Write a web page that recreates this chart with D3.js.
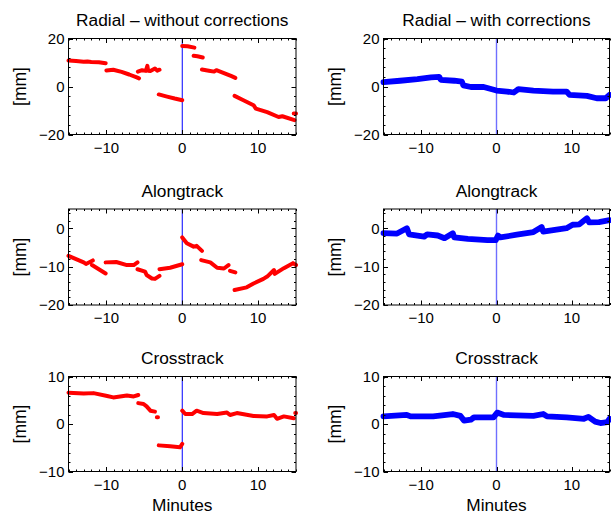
<!DOCTYPE html>
<html><head><meta charset="utf-8">
<script src="https://cdn.jsdelivr.net/npm/d3@7"></script>
<style>
html,body{margin:0;padding:0;background:#fff;}
svg{display:block;font-family:"Liberation Sans",Arial,Helvetica,sans-serif;}
</style></head>
<body>
<svg id="chart" width="611" height="515"></svg>
<script>
// ---------------- data (minutes, mm); null breaks a track ----------------
const xTicks = [-10, 0, 10];
const titles = ["Radial \u2013 without corrections", "Radial \u2013 with corrections",
                "Alongtrack", "Alongtrack", "Crosstrack", "Crosstrack"];
const yTicks = [[-20, 0, 20], [-20, -10, 0], [-10, 0, 10]];

const radialRawT = [-15,-14,-13,-12.5,-12,-11,-10.1,null,
  -10,-9.1,-8,-7,-6,-5.7,null,
  -5.85,-5.3,-4.8,-4.6,-4.5,-4.2,-3.6,-3.3,-3.0,null,
  -3.1,-2,-1,0,null,
  0,0.7,1.6,null,
  1.5,2.0,2.7,null,
  2.6,3.5,4.2,4.5,5.5,6.5,7.0,null,
  6.9,8,9.4,9.7,11.2,12.7,13.2,14.8,null,
  14.7,15];
const radialRawV = [10.8,10.6,10.3,10.4,10.2,10.1,9.7,null,
  6.7,7.0,6.1,5.0,3.8,3.4,null,
  6.2,6.8,6.5,8.6,6.6,6.5,7.5,6.6,7.0,null,
  -3.3,-4.2,-5.0,-5.7,null,
  16.9,16.8,16.2,null,
  12.8,12.6,12.1,null,
  7.1,6.6,6.2,6.8,5.6,4.3,3.6,null,
  -3.9,-5.6,-7.8,-9.2,-10.7,-12.7,-12.4,-14.0,null,
  -11.3,-11.3];

const radialCorT = [-15,-12.8,-10.5,-8.7,-7.6,-7.4,-5.6,-4.6,-4.4,-3.4,-1.7,0,1.4,2.3,2.9,4.9,7.5,9.3,9.7,12.0,13.3,14.5,15];
const radialCorV = [1.8,2.4,3.1,3.8,4.0,2.8,2.4,2.0,0.5,-0.2,-0.2,-1.7,-2.1,-2.5,-1.1,-1.7,-2.1,-2.1,-3.5,-3.9,-4.9,-4.9,-3.5];

const alongRawT = [-15,-13,-12.7,-11.8,null,
  -11.9,-10.1,null,
  -10.1,-8.7,-7.3,-6.4,-5.9,null,
  -5.9,-4.9,-4.7,-4.0,-3.6,-3.0,null,
  -3.0,-1.6,0,null,
  0,0.6,1.5,1.9,2.6,null,
  2.5,3.7,4.6,5.5,6.1,null,
  6.3,7.0,null,
  6.9,8.5,9.4,10.7,11.2,12.1,12.2,13.4,14.6,15];
const alongRawV = [-7.2,-8.9,-9.3,-8.4,null,
  -9.6,-11.8,null,
  -8.9,-8.8,-9.6,-9.6,-8.9,null,
  -10.7,-11.3,-12.2,-13.1,-13.2,-12.4,null,
  -10.7,-10.3,-9.4,null,
  -2.4,-3.9,-4.8,-4.6,-5.9,null,
  -8.3,-8.9,-10.3,-10.5,-9.6,null,
  -11.1,-11.5,null,
  -16.1,-15.4,-14.4,-13.2,-12.6,-10.9,-11.9,-10.4,-9.1,-9.6];

const alongCorT = [-15,-13.2,-11.9,-11.6,-9.6,-9.2,-7.8,-6.9,-5.8,-5.6,-3.8,-1.2,-0.1,0.2,0.5,2.7,4.9,6.0,6.2,9.3,10.1,11.0,12.0,12.3,13.6,15];
const alongCorV = [-1.3,-1.4,0.0,-1.6,-2.2,-1.6,-1.9,-2.6,-1.3,-2.4,-2.8,-3.1,-3.1,-1.9,-2.4,-1.7,-1.0,0.3,-0.9,0.0,0.9,1.0,2.6,1.5,1.6,2.1];

const crossRawT = [-15,-13,-11.7,-9.9,-9.1,-7.3,-6.4,-5.8,null,
  -5.8,-5.1,-4.7,-4.2,-3.6,null,
  -3.35,-3.2,null,
  -3.1,-1.6,-0.3,0,null,
  0,0.4,1.3,1.9,2.8,4.6,5.9,6.3,7.2,9.4,11.2,12.1,12.5,13.4,14.7,null,
  14.9,15];
const crossRawV = [6.6,6.4,6.5,5.9,5.6,6.0,5.8,6.1,null,
  4.4,4.2,3.7,2.8,2.6,null,
  1.4,1.4,null,
  -4.5,-4.7,-4.9,-4.2,null,
  2.8,2.1,2.1,2.8,2.3,2.1,2.4,1.9,2.3,1.7,1.6,1.9,1.1,1.6,1.2,null,
  2.3,2.3];

const crossCorT = [-15,-11.9,-11.4,-8.4,-5.8,-4.8,-4.3,-3.4,-3.0,-0.4,0.1,1.0,4.9,6.2,6.7,9.3,11.6,12.2,13.1,13.8,14.7,15];
const crossCorV = [1.6,1.9,1.6,1.6,2.1,1.7,0.7,0.9,1.4,1.4,2.4,1.9,1.7,2.1,1.6,1.4,1.1,1.5,0.5,0.2,0.4,1.1];

// ---------------- layout ----------------
const svg = d3.select("#chart");
const colX = [[68.5, 296], [383.5, 609.5]];
const rowY = [[38.5, 134.5], [209, 305], [376.5, 471.5]];
const yDom = [[-20, 20], [-20, 5], [-10, 10]];
const ySeries = [
  [[radialRawT, radialRawV], [radialCorT, radialCorV]],
  [[alongRawT, alongRawV], [alongCorT, alongCorV]],
  [[crossRawT, crossRawV], [crossCorT, crossCorV]]
];
const yMinorStep = [4, 2, 2];

for (let r = 0; r < 3; r++) {
  for (let c = 0; c < 2; c++) {
    const [x0, x1] = colX[c];
    const [y0, y1] = rowY[r];
    const x = d3.scaleLinear().domain([-15, 15]).range([x0, x1]);
    const y = d3.scaleLinear().domain(yDom[r]).range([y1, y0]);
    const g = svg.append("g");

    const [T, V] = ySeries[r][c];
    const pts = T.map((t, i) => [t, V[i]]);
    const line = d3.line().defined(d => d[0] !== null && d[1] !== null)
      .x(d => x(d[0])).y(d => y(d[1]));
    const isRaw = c === 0;

    g.append("line")
      .attr("x1", x(0)).attr("x2", x(0)).attr("y1", y0).attr("y2", y1)
      .attr("stroke", isRaw ? "#0000ff" : "#6f6fff").attr("stroke-width", isRaw ? 1 : 1.4);

    g.append("path").datum(pts).attr("d", line)
      .attr("fill", "none")
      .attr("stroke", isRaw ? "#ff0000" : "#0000ff")
      .attr("stroke-width", isRaw ? 4 : 5.8)
      .attr("stroke-linecap", "round").attr("stroke-linejoin", "round");

    const xMinor = d3.range(-15, 15.01, 1);
    const yMinor = d3.range(yDom[r][0], yDom[r][1] + 0.01, yMinorStep[r]);
    const ax = g.append("g").attr("stroke", "#000").attr("stroke-width", 1);
    xMinor.forEach(v => {
      const major = xTicks.includes(v);
      const L = major ? 4.5 : 2;
      const px = Math.round(x(v)) + 0.5;
      ax.append("line").attr("x1", px).attr("x2", px).attr("y1", y1).attr("y2", y1 - L);
      ax.append("line").attr("x1", px).attr("x2", px).attr("y1", y0).attr("y2", y0 + L);
    });
    yMinor.forEach(v => {
      const major = yTicks[r].includes(v);
      const L = major ? 4.5 : 2;
      const py = Math.round(y(v)) + 0.5;
      ax.append("line").attr("x1", x0).attr("x2", x0 + L).attr("y1", py).attr("y2", py);
      ax.append("line").attr("x1", x1).attr("x2", x1 - L).attr("y1", py).attr("y2", py);
    });
    g.append("rect").attr("x", x0).attr("y", y0).attr("width", x1 - x0).attr("height", y1 - y0)
      .attr("fill", "none").attr("stroke", "#000").attr("stroke-width", 1);

    const fmt = v => (v < 0 ? "\u2212" + Math.abs(v) : "" + v);
    xTicks.forEach(v => {
      g.append("text").attr("x", x(v)).attr("y", y1 + 18).attr("text-anchor", "middle")
        .attr("font-size", 15).attr("fill", "#000").text(fmt(v));
    });
    yTicks[r].forEach(v => {
      g.append("text").attr("x", x0 - 4).attr("y", y(v) + 5.3).attr("text-anchor", "end")
        .attr("font-size", 15).attr("fill", "#000").text(fmt(v));
    });

    g.append("text").attr("x", (x0 + x1) / 2).attr("y", y0 - 12.5).attr("text-anchor", "middle")
      .attr("font-size", 17.3).attr("fill", "#000").text(titles[r * 2 + c]);

    const lx = x0 - 43, ly = (y0 + y1) / 2;
    g.append("text").attr("transform", `translate(${lx},${ly}) rotate(-90)`)
      .attr("text-anchor", "middle").attr("font-size", 17.5).attr("fill", "#000").text("[mm]");

    if (r === 2) {
      g.append("text").attr("x", (x0 + x1) / 2).attr("y", 511).attr("text-anchor", "middle")
        .attr("font-size", 17.3).attr("fill", "#000").text("Minutes");
    }
  }
}
</script>
</body></html>
